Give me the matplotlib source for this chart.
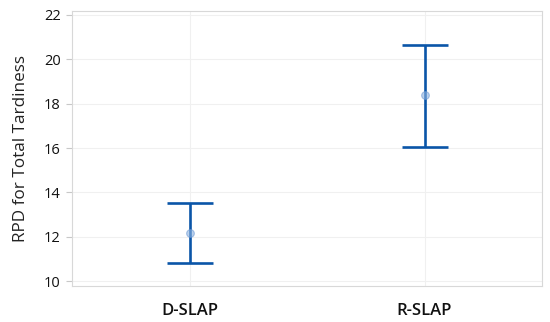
import numpy as np
import matplotlib as mpl
mpl.use('Agg')
import matplotlib.pyplot as plt

# data
methods = ['D-SLAP', 'R-SLAP']
means = [12.18, 18.39]
lower = [10.80, 16.06]
upper = [13.51, 20.65]
yTicks = [10, 12, 14, 16, 18, 20, 22]

plt.rcParams['font.family'] = ['Open Sans', 'DejaVu Sans']

fig = plt.figure(figsize=(5.5, 3.22), dpi=100)
ax = fig.add_axes([72 / 550, 1 - 286 / 322, 470 / 550, 275 / 322])

x = np.arange(len(methods))
m = np.array(means)
errLo = m - np.array(lower)
errHi = np.array(upper) - m

ax.errorbar(x, m, yerr=[errLo, errHi], fmt='none', ecolor='#0a55a8',
            elinewidth=1.9, capsize=16.8, capthick=1.9, zorder=3)
ax.plot(x, m, 'o', ms=5.5, color='#8fb3e0', alpha=0.6, mec='#6f9ad4',
        mew=0.8, zorder=4)

ax.set_xlim(-0.5, 1.5)
ax.set_ylim(9.78, 22.18)
ax.set_xticks(x)
ax.set_xticklabels(methods, fontsize=12, fontweight='semibold', color='#111111')
ax.set_yticks(yTicks)
ax.set_yticklabels([str(t) for t in yTicks], fontsize=10.5, color='#111111')
ax.set_ylabel('RPD for Total Tardiness', fontsize=12.3, color='#222222',
              labelpad=11)

ax.grid(True, color='#f0f0f0', lw=0.8, zorder=0)
for s in ax.spines.values():
    s.set_color('#d8d8d8')
    s.set_linewidth(0.8)
ax.tick_params(axis='y', length=4, color='#c8c8c8', pad=4)
ax.tick_params(axis='x', length=0, pad=12)

fig.savefig('out.png', dpi=100)
